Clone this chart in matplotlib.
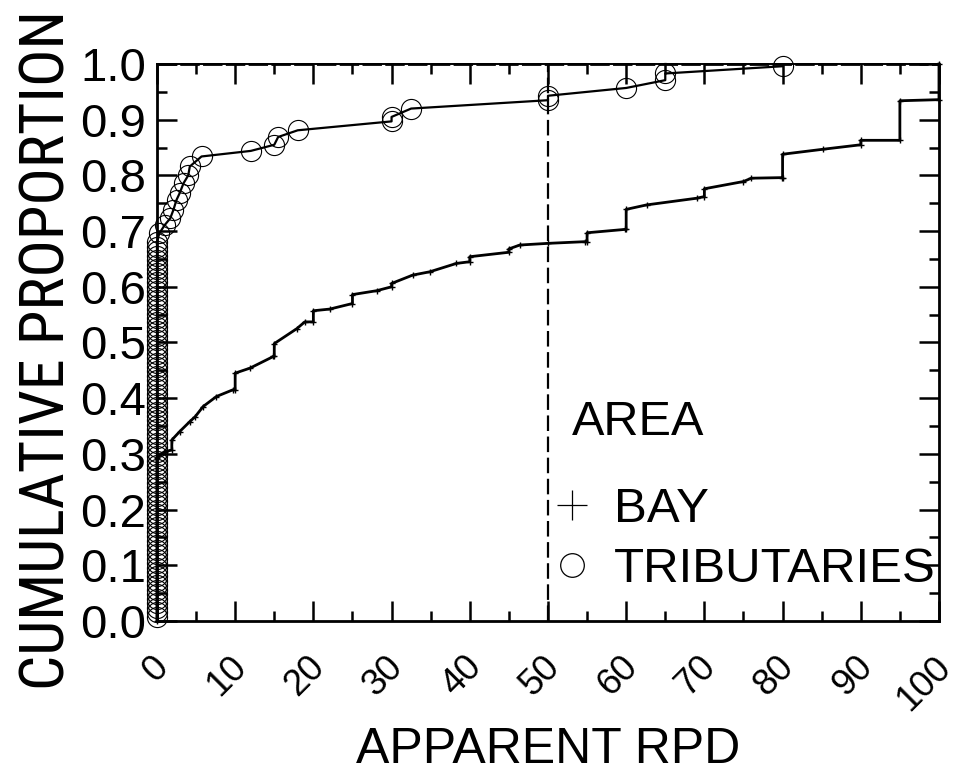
import matplotlib
matplotlib.use("Agg")
import matplotlib.pyplot as plt
from matplotlib.lines import Line2D
from matplotlib.ticker import MultipleLocator
from matplotlib import font_manager
from matplotlib.transforms import ScaledTranslation

plt.rcParams['font.family'] = ['Liberation Sans', 'DejaVu Sans']

# pick a condensed sans face for the tall, narrow y-axis title if one is installed
_fonts = font_manager.fontManager.ttflist
_names = {f.name for f in _fonts}
NARROW = None
for cand in ['Liberation Sans Narrow', 'Arial Narrow', 'Roboto Condensed',
             'Open Sans Condensed', 'Noto Sans Condensed', 'DejaVu Sans Condensed']:
    if cand in _names:
        NARROW = dict(family=[cand, 'Liberation Sans'])
        break
if NARROW is None:
    for f in _fonts:
        if str(f.stretch) in ('condensed', 'semi-condensed') and 'Sans' in f.name \
                and 'Mono' not in f.name and 'CJK' not in f.name:
            NARROW = dict(family=[f.name], fontstretch=f.stretch, fontweight=f.weight)
            break

# ---------------- data ----------------
# BAY: cumulative proportion curve knots (apparent RPD, cumulative proportion)
bay_x = [0, 0, 1.0, 1.9, 1.9, 2.9, 4.2, 4.9, 5.9, 7.6, 9.7, 10, 10, 11.9, 14.9,
         15, 15, 17.9, 18.9, 20, 20, 22.1, 25, 25, 28.1, 30, 30, 32.7, 34.9, 38.3,
         40, 40, 45, 45, 46.4, 50, 54.7, 55, 55, 59.8, 60, 60, 62.6, 69, 70, 70,
         75, 76, 79.9, 80, 80, 85.2, 90, 90, 95, 95, 100, 100]
bay_y = [0.0, 0.293, 0.304, 0.307, 0.325, 0.340, 0.358, 0.367, 0.385, 0.403, 0.415, 0.415, 0.445, 0.454, 0.475,
         0.475, 0.498, 0.525, 0.537, 0.537, 0.557, 0.560, 0.570, 0.586, 0.593, 0.600, 0.606, 0.621, 0.627, 0.642,
         0.645, 0.654, 0.662, 0.668, 0.675, 0.678, 0.681, 0.681, 0.697, 0.703, 0.703, 0.739, 0.747, 0.759, 0.762, 0.776,
         0.789, 0.795, 0.796, 0.796, 0.838, 0.847, 0.855, 0.863, 0.863, 0.934, 0.936, 1.0]

# TRIBUTARIES: stations with apparent RPD = 0 (cumulative proportions)
trib_zero_y = [0.008, 0.016, 0.024, 0.032, 0.040, 0.048, 0.056, 0.064, 0.072, 0.080,
               0.088, 0.096, 0.104, 0.112, 0.120, 0.128, 0.136, 0.144, 0.152, 0.160,
               0.168, 0.176, 0.184, 0.192, 0.200, 0.208, 0.216, 0.224, 0.232, 0.240,
               0.248, 0.256, 0.264, 0.272, 0.280, 0.288, 0.296, 0.304, 0.312, 0.320,
               0.328, 0.336, 0.344, 0.352, 0.360, 0.368, 0.376, 0.384, 0.392, 0.400,
               0.408, 0.416, 0.424, 0.432, 0.440, 0.448, 0.456, 0.464, 0.472, 0.480,
               0.488, 0.496, 0.504, 0.512, 0.520, 0.528, 0.536, 0.544, 0.552, 0.560,
               0.568, 0.576, 0.584, 0.592, 0.600, 0.608, 0.616, 0.624, 0.632, 0.640,
               0.648, 0.656, 0.664, 0.672, 0.680]
# TRIBUTARIES: stations with apparent RPD > 0
trib_pos_x = [0.3, 1.0, 1.7, 2.1, 2.5, 2.9, 3.4, 4.0, 4.2, 5.7,
              12, 15, 15.5, 18, 30, 30, 32.5, 50, 50, 60, 65, 65, 80]
trib_pos_y = [0.696, 0.711, 0.723, 0.738, 0.756, 0.768, 0.786, 0.800, 0.816, 0.834,
              0.844, 0.855, 0.869, 0.881, 0.897, 0.905, 0.920, 0.935, 0.943, 0.957, 0.971, 0.983, 0.996]

ref_x = 50
x_ticks = [0, 10, 20, 30, 40, 50, 60, 70, 80, 90, 100]
y_ticks = [0.0, 0.1, 0.2, 0.3, 0.4, 0.5, 0.6, 0.7, 0.8, 0.9, 1.0]
series_names = ['BAY', 'TRIBUTARIES']
legend_title = 'AREA'
x_label = 'APPARENT RPD'
y_label = 'CUMULATIVE PROPORTION'

trib_x = [0] * (len(trib_zero_y) + 1) + trib_pos_x
trib_y = [0.0] + trib_zero_y + trib_pos_y

# ---------------- figure ----------------
fig = plt.figure(figsize=(9.6, 7.74), dpi=100)
ax = fig.add_axes([0.1635, 0.1977, 0.8146, 0.7196])
ax.set_xlim(0, 100)
ax.set_ylim(0, 1)

# reference lines
ax.axvline(ref_x, color='black', lw=1.6, ls=(0, (7, 2.5)), zorder=1)
ax.axhline(1.0, color='black', lw=2.0, ls=(0, (7, 1.2)), zorder=1, clip_on=False)

# BAY curve
ax.plot(bay_x, bay_y, color='black', lw=2.0, marker='+', ms=5, mew=1.0,
        clip_on=False, zorder=3)
# TRIBUTARIES curve
ax.plot(trib_x, trib_y, color='black', lw=1.6, zorder=3, clip_on=False)
ax.plot(trib_x[1:], trib_y[1:], ls='none', marker='o', ms=14.5, mfc='none',
        mec='black', mew=0.8, clip_on=False, zorder=4)

# ticks
ax.set_xticks(x_ticks)
ax.set_xticklabels([str(v) for v in x_ticks], rotation=45,
                   ha='right', va='top', fontsize=26.5)
ax.set_yticks(y_ticks)
ax.set_yticklabels([f'{v:.1f}' for v in y_ticks], fontsize=34)
ax.xaxis.set_minor_locator(MultipleLocator(5))
ax.yaxis.set_minor_locator(MultipleLocator(0.05))
ax.tick_params(which='both', direction='in', top=True, right=True,
               width=1.8, color='black')
ax.tick_params(which='major', length=14.4)
ax.tick_params(which='minor', length=7.2)
ax.tick_params(axis='y', which='major', pad=8)
ax.tick_params(axis='x', which='major', pad=20.5)

for s in ['left', 'right', 'bottom']:
    ax.spines[s].set_linewidth(2.0)
ax.spines['top'].set_linewidth(1.4)

ax.set_xlabel(x_label, fontsize=36)
ax.xaxis.set_label_coords(0.5, -0.19)
ax.xaxis.label.set_va('top')

# y-axis title: fit its length to ~680 px
ylab = ax.set_ylabel(y_label, fontsize=36, **(NARROW or {}))
ax.yaxis.set_label_coords(-0.103, 0.4865)
if NARROW:
    fig.canvas.draw()
    h = ylab.get_window_extent().height
    ylab.set_fontsize(min(50, 36 * 680.0 / h))

# legend
ax.text(0.531, 0.357, legend_title, transform=ax.transAxes, fontsize=35,
        ha='left', va='center')
handles = [
    Line2D([], [], ls='none', marker='+', ms=21, mew=0.9, color='black'),
    Line2D([], [], ls='none', marker='o', ms=17, mfc='none', mec='black', mew=0.9),
]
leg = ax.legend(handles, series_names, loc='upper left',
                bbox_to_anchor=(0.505, 0.24), frameon=False, fontsize=35.5,
                handlelength=0.8, handletextpad=0.45, labelspacing=0.3,
                borderpad=0.0, borderaxespad=0.0)

# shift rotated x tick labels so their right edge sits right of the tick
shift = ScaledTranslation(18.5 / 100, 0, fig.dpi_scale_trans)
for lab in ax.get_xticklabels():
    lab.set_transform(lab.get_transform() + shift)

fig.savefig('out.png', dpi=100)
